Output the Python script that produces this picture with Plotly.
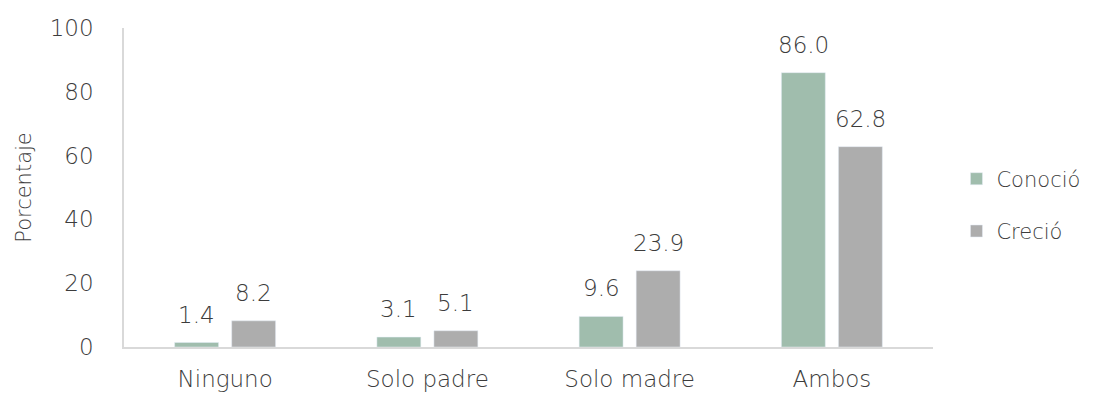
import plotly.graph_objects as go

categorias = ["Ninguno", "Solo padre", "Solo madre", "Ambos"]
conocio = [1.4, 3.1, 9.6, 86.0]
crecio = [8.2, 5.1, 23.9, 62.8]
y_ticks = [0, 20, 40, 60, 80, 100]

FONT = "DejaVu Sans"
TXT = "#3c3c3c"
W = 200
series = [("Conoció", conocio, "#A0BDAD", -28.5), ("Creció", crecio, "#ADADAD", 28.5)]

fig = go.Figure()
for name, vals, color, dx in series:
    fig.add_trace(go.Bar(
        x=categorias, y=vals, name=name, legendgroup=name,
        marker=dict(color=color),
    ))
    # value labels above each bar
    for c, v in zip(categorias, vals):
        fig.add_annotation(
            x=c, y=v, text=f"{v:.1f}", showarrow=False,
            xref="x", yref="y", xshift=dx, yshift=13, yanchor="bottom",
            font=dict(family=FONT, size=23, color=TXT, weight=W),
        )

fig.update_layout(
    width=1097, height=396,
    margin=dict(l=124, r=164, t=28, b=49, autoexpand=False),
    paper_bgcolor="white", plot_bgcolor="white",
    font=dict(family=FONT, color=TXT, size=22, weight=W),
    barmode="group", bargap=0.436, bargroupgap=0.23,
    showlegend=True,
    legend=dict(x=1.029, y=0.445, xanchor="left", yanchor="middle",
                font=dict(size=21, family=FONT, color=TXT, weight=W),
                tracegroupgap=22, itemwidth=30),
    xaxis=dict(showline=True, linecolor="#D9D9D9", linewidth=1.5,
               ticks="", tickfont=dict(size=23), ticklabelstandoff=11,
               automargin=False),
    yaxis=dict(range=[0, 100], tickvals=y_ticks, showgrid=False,
               zeroline=False, showline=True, linecolor="#D9D9D9",
               linewidth=1.5, ticks="", ticklabelstandoff=24,
               tickfont=dict(size=23), automargin=False,
               title=dict(text="Porcentaje", font=dict(size=21), standoff=12)),
)

fig.write_html("out.html")
